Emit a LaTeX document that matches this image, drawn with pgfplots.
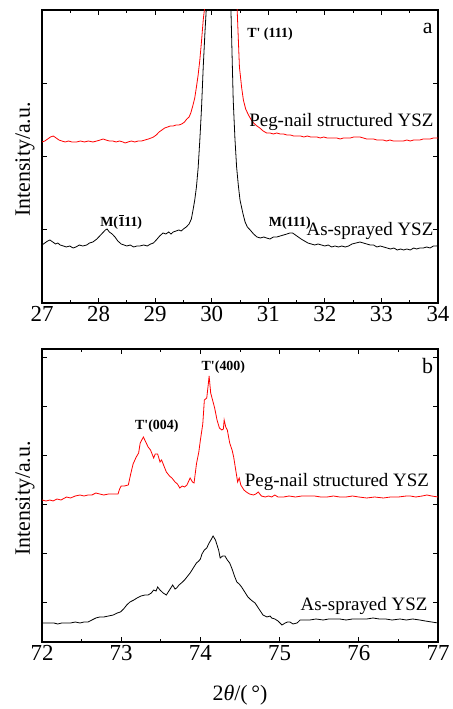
\documentclass[border=0pt]{standalone}
\usepackage{pgfplots}
\pgfplotsset{compat=1.18}
\usepackage{fontspec}
\setmainfont{Liberation Serif}

\pgfplotsset{
  xrdpanel/.style={
    scale only axis,
    width=396bp, height=293bp,
    anchor=south west,
    ymin=0, ymax=293,
    axis line style={line width=1.1bp},
    tick style={line width=0.8bp, black},
    major tick length=5bp,
    minor tick length=3bp,
    tick align=inside,
    minor x tick num=1,
    yticklabels={},
    /pgf/number format/assume math mode=true,
    ticklabel style={font=\fontsize{23}{25}\selectfont},
    label style={font=\fontsize{22}{24}\selectfont},
    ylabel={Intensity/a.u.},
    ylabel style={at={(axis description cs:-0.043,0.49)}, anchor=center},
    clip=true,
  },
  redline/.style={red, line width=0.8bp},
  blkline/.style={black, line width=0.8bp},
}

\begin{document}
\begin{tikzpicture}
\useasboundingbox (0,0) rectangle (453bp,709bp);

% panel a
\begin{axis}[xrdpanel, at={(42bp,406bp)},
  xmin=27, xmax=34, xtick={27,...,34},
  ytick={73.25,146.5,219.75}]
\addplot[blkline] coordinates {
(27.00,58) (27.05,60) (27.10,62) (27.14,63) (27.19,61) (27.24,59) (27.28,60) (27.32,58)
(27.38,57) (27.43,56) (27.49,57) (27.55,55) (27.60,56) (27.66,58) (27.72,57) (27.79,58)
(27.84,60) (27.90,61) (27.97,64) (28.02,67) (28.07,70) (28.12,73) (28.15,74) (28.19,71)
(28.24,69) (28.29,66) (28.34,62) (28.40,59) (28.45,58) (28.50,57) (28.56,58) (28.62,56)
(28.68,57) (28.73,57) (28.80,58) (28.86,57) (28.92,59) (28.97,60) (29.02,63) (29.08,67)
(29.14,70) (29.19,69) (29.24,71) (29.28,69) (29.32,71) (29.37,72) (29.42,73) (29.46,72)
(29.50,74) (29.55,76) (29.60,79) (29.64,84) (29.67,93) (29.70,103) (29.73,116) (29.76,135)
(29.79,163) (29.82,195) (29.85,236) (29.88,270) (29.91,300) (29.97,450) (30.05,750) (30.12,900)
(30.20,700) (30.28,420) (30.34,293) (30.38,203) (30.41,165) (30.44,136) (30.47,118) (30.50,103)
(30.55,90) (30.59,81) (30.63,76) (30.68,73) (30.74,69) (30.80,66) (30.86,65) (30.92,66)
(30.97,65) (31.03,64) (31.09,66) (31.15,66) (31.21,67) (31.27,68) (31.33,69) (31.38,70)
(31.43,70) (31.48,68) (31.53,66) (31.58,64) (31.64,62) (31.70,60) (31.76,59) (31.82,58)
(31.88,59) (31.94,58) (32.00,57) (32.06,58) (32.12,56) (32.18,57) (32.24,56) (32.30,57)
(32.36,56) (32.42,57) (32.48,59) (32.55,60) (32.62,61) (32.68,60) (32.74,59) (32.80,58)
(32.86,58) (32.92,56) (32.98,57) (33.04,56) (33.10,55) (33.16,54) (33.22,55) (33.28,53)
(33.34,54) (33.39,53) (33.45,54) (33.51,53) (33.57,55) (33.62,54) (33.68,55) (33.74,55)
(33.80,56) (33.86,55) (33.92,57) (33.98,57) (34.00,58)
};
\addplot[redline] coordinates {
(27.00,161) (27.05,162) (27.10,164) (27.15,166) (27.20,167) (27.25,165) (27.30,163) (27.35,162)
(27.41,161) (27.47,162) (27.53,161) (27.61,161) (27.68,162) (27.75,161) (27.82,162) (27.90,161)
(27.97,162) (28.03,163) (28.08,164) (28.13,163) (28.19,162) (28.25,162) (28.31,161) (28.37,162)
(28.43,161) (28.47,160) (28.52,161) (28.58,162) (28.64,161) (28.70,162) (28.76,162) (28.82,163)
(28.88,164) (28.93,165) (28.97,166) (29.02,168) (29.07,171) (29.12,173) (29.17,175) (29.22,176)
(29.27,177) (29.32,177) (29.37,178) (29.42,178) (29.47,179) (29.52,181) (29.56,184) (29.60,186)
(29.63,190) (29.66,196) (29.70,205) (29.73,216) (29.76,228) (29.79,243) (29.82,262) (29.85,283)
(29.88,298) (29.95,420) (30.05,700) (30.15,900) (30.28,700) (30.38,420) (30.45,293) (30.49,236)
(30.53,215) (30.56,203) (30.60,194) (30.65,188) (30.70,183) (30.74,180) (30.80,177) (30.85,175)
(30.91,172) (30.97,170) (31.03,170) (31.09,169) (31.15,170) (31.21,169) (31.27,169) (31.33,168)
(31.39,168) (31.45,167) (31.51,167) (31.57,167) (31.63,166) (31.69,167) (31.75,166) (31.81,166)
(31.86,166) (31.92,165) (31.98,166) (32.04,165) (32.10,165) (32.15,165) (32.21,165) (32.27,164)
(32.33,165) (32.39,165) (32.45,165) (32.51,166) (32.57,166) (32.62,166) (32.68,165) (32.74,164)
(32.80,164) (32.86,164) (32.92,163) (32.98,163) (33.03,163) (33.09,162) (33.15,163) (33.21,162)
(33.27,162) (33.33,162) (33.39,162) (33.45,163) (33.51,162) (33.57,163) (33.62,163) (33.68,163)
(33.74,164) (33.80,164) (33.86,164) (33.92,165) (33.98,165) (34.00,165)
};
\node[font=\fontsize{14}{16}\selectfont\bfseries] at (axis cs:31.03,269) {T\textquotesingle{} (111)};
\node[font=\fontsize{22}{24}\selectfont] at (axis cs:33.82,275) {a};
\node[font=\fontsize{19}{21}\selectfont, anchor=east] at (axis cs:33.98,181) {Peg-nail structured YSZ};
\node[font=\fontsize{19}{21}\selectfont, anchor=east] at (axis cs:33.98,72) {As-sprayed YSZ};
\node[font=\fontsize{14}{16}\selectfont\bfseries] at (axis cs:28.40,81)
  {M(\makebox[0pt][l]{\hspace{0.8bp}\rule[10.4bp]{5.4bp}{0.9bp}}111)};
\node[font=\fontsize{14}{16}\selectfont\bfseries] at (axis cs:31.38,80) {M(111)};
\end{axis}

% panel b
\begin{axis}[xrdpanel, at={(42bp,67bp)},
  xmin=72, xmax=77, xtick={72,...,77},
  ytick={40,89,138,187,236,285},
  xlabel={2\textit{θ}/(\,°)},
  xlabel style={at={(axis description cs:0.5,-0.181)}, anchor=center}]
\addplot[blkline] coordinates {
(72.00,19) (72.05,19) (72.10,19) (72.15,19) (72.20,18) (72.25,19) (72.31,19) (72.36,19)
(72.42,20) (72.48,19) (72.53,20) (72.58,20) (72.63,22) (72.68,24) (72.73,25) (72.78,25)
(72.84,26) (72.90,27) (72.95,29) (72.99,30) (73.03,33) (73.07,37) (73.11,40) (73.16,42)
(73.20,44) (73.25,46) (73.30,47) (73.34,47) (73.38,49) (73.41,52) (73.44,51) (73.46,55)
(73.49,52) (73.53,49) (73.57,47) (73.61,52) (73.65,57) (73.68,53) (73.70,54) (73.73,57)
(73.76,59) (73.80,62) (73.84,66) (73.87,69) (73.91,74) (73.95,79) (73.98,81) (74.00,83)
(74.02,88) (74.05,92) (74.08,94) (74.11,99) (74.14,103) (74.16,106) (74.19,102) (74.21,97)
(74.23,92) (74.25,84) (74.28,86) (74.31,86) (74.34,82) (74.37,79) (74.40,73) (74.43,66)
(74.46,60) (74.49,58) (74.52,55) (74.56,50) (74.60,45) (74.64,42) (74.69,39) (74.74,33)
(74.79,27) (74.84,25) (74.88,26) (74.90,24) (74.94,23) (74.98,21) (75.03,17) (75.07,19)
(75.10,20) (75.13,20) (75.17,18) (75.22,19) (75.26,22) (75.30,22) (75.38,22) (75.46,23)
(75.55,22) (75.62,23) (75.68,23) (75.76,23) (75.84,22) (75.92,23) (76.00,23) (76.10,23)
(76.18,24) (76.26,23) (76.34,23) (76.42,22) (76.52,23) (76.60,22) (76.68,23) (76.77,22)
(76.84,21) (76.92,20) (77.00,19)
};
\addplot[redline] coordinates {
(72.00,142) (72.05,141) (72.10,142) (72.14,141) (72.19,143) (72.24,142) (72.31,145) (72.36,144)
(72.42,146) (72.48,147) (72.53,146) (72.58,147) (72.63,147) (72.68,149) (72.73,148) (72.78,147)
(72.84,148) (72.90,148) (72.96,148) (72.98,153) (73.00,156) (73.04,156) (73.09,157) (73.12,168)
(73.15,178) (73.19,185) (73.22,189) (73.24,199) (73.26,202) (73.28,205) (73.31,200) (73.34,195)
(73.37,192) (73.41,184) (73.43,188) (73.46,188) (73.49,180) (73.51,182) (73.54,176) (73.57,170)
(73.61,166) (73.64,164) (73.68,160) (73.71,158) (73.74,154) (73.77,156) (73.80,155) (73.83,157)
(73.87,164) (73.90,160) (73.92,159) (73.95,178) (73.98,190) (74.00,202) (74.03,218) (74.05,242)
(74.08,244) (74.10,258) (74.11,266) (74.13,249) (74.16,240) (74.18,234) (74.21,222) (74.24,214)
(74.27,212) (74.29,213) (74.30,222) (74.32,215) (74.34,212) (74.37,199) (74.40,192) (74.42,185)
(74.45,170) (74.47,160) (74.49,164) (74.51,157) (74.55,152) (74.58,150) (74.62,148) (74.67,147)
(74.70,148) (74.73,150) (74.77,146) (74.82,145) (74.86,146) (74.90,145) (74.94,147) (74.98,145)
(75.05,145) (75.12,146) (75.20,145) (75.28,146) (75.36,146) (75.44,146) (75.52,145) (75.60,145)
(75.68,146) (75.76,145) (75.84,145) (75.92,146) (76.00,145) (76.10,144) (76.20,145) (76.31,144)
(76.40,145) (76.50,145) (76.60,146) (76.65,146) (76.72,145) (76.80,146) (76.86,147) (76.92,146)
(77.00,145)
};
\node[font=\fontsize{22}{24}\selectfont] at (axis cs:76.87,276) {b};
\node[font=\fontsize{14}{16}\selectfont\bfseries] at (axis cs:74.29,275) {T\textquotesingle(400)};
\node[font=\fontsize{14}{16}\selectfont\bfseries] at (axis cs:73.45,216) {T\textquotesingle(004)};
\node[font=\fontsize{19}{21}\selectfont, anchor=east] at (axis cs:76.93,160) {Peg-nail structured YSZ};
\node[font=\fontsize{19}{21}\selectfont, anchor=east] at (axis cs:76.91,36) {As-sprayed YSZ};
\end{axis}
\end{tikzpicture}
\end{document}
